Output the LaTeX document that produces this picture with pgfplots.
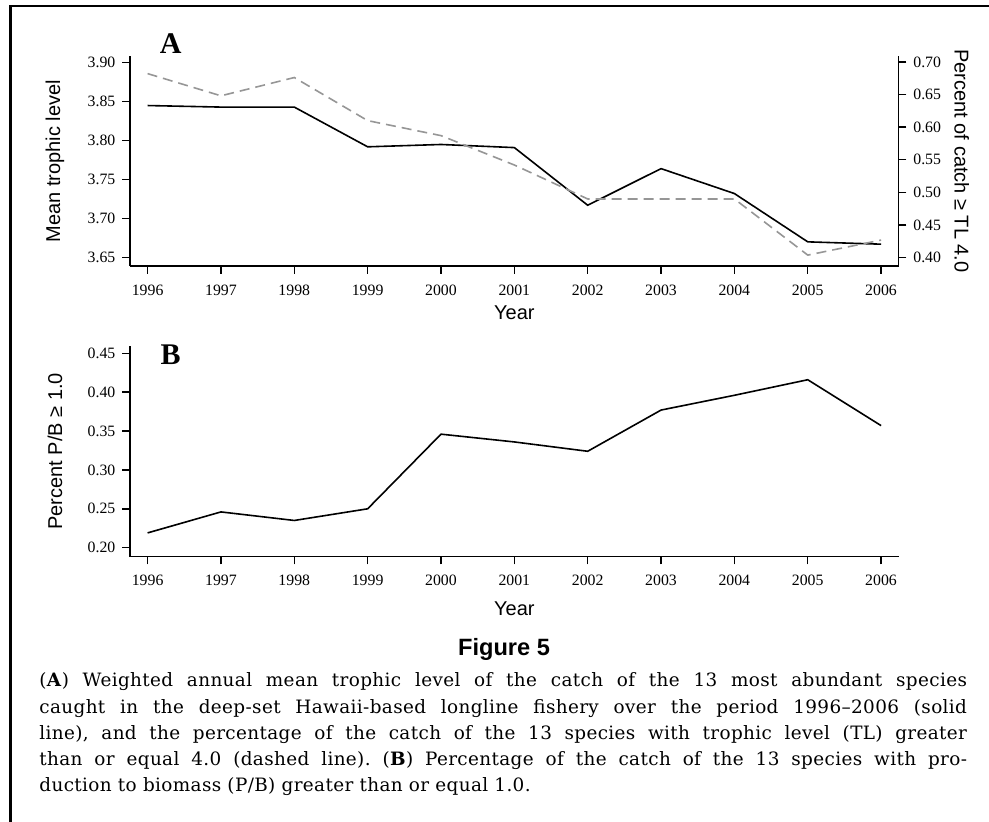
\documentclass[border=0pt]{standalone}
\usepackage{fontspec}
\setmainfont{Liberation Sans}
\newfontfamily\tickfont{Liberation Serif}
\newfontfamily\capfont{DejaVu Serif}[LetterSpace=2]
\usepackage{pgfplots}
\usepackage{pgfplotstable}
\pgfplotsset{compat=1.18}

\definecolor{dashgray}{RGB}{150,150,150}

% panel A: mean trophic level (left axis) and share of catch >= TL 4.0 (right axis)
\pgfplotstableread{
year tl    pct
1996 3.845 0.682
1997 3.843 0.648
1998 3.843 0.676
1999 3.792 0.610
2000 3.795 0.587
2001 3.791 0.542
2002 3.717 0.490
2003 3.764 0.490
2004 3.732 0.490
2005 3.670 0.404
2006 3.667 0.427
}\dataA

% panel B: share of catch with P/B >= 1.0
\pgfplotstableread{
year pb
1996 0.219
1997 0.246
1998 0.235
1999 0.250
2000 0.346
2001 0.336
2002 0.324
2003 0.377
2004 0.396
2005 0.416
2006 0.357
}\dataB

\pgfplotsset{
  panel/.style={
    scale only axis, width=384.35pt,
    xmin=1995.76, xmax=2006.24,
    xtick={1996,...,2006},
    tick align=outside, major tick length=3.8pt,
    tick style={black, line width=0.7pt},
    axis line style={black, line width=0.7pt, -},
    tick label style={font=\tickfont\fontsize{7.9}{9}\selectfont,
      /pgf/number format/assume math mode=true},
    label style={font=\fontsize{10}{12}\selectfont},
    xticklabel style={/pgf/number format/1000 sep={}, yshift=-2pt},
    yticklabel style={/pgf/number format/.cd, fixed, fixed zerofill, precision=2},
  }
}

\begin{document}
\frenchspacing
\begin{tikzpicture}
\useasboundingbox (0,0) rectangle (494.5pt,-411pt);

% frame
\draw[line width=1.3pt] (5.2pt,-420pt) -- (5.2pt,-3pt) -- (500pt,-3pt);

% ---- panel A, left axis
\begin{axis}[panel, at={(65pt,-133pt)}, anchor=south west, height=105pt,
  ymin=3.639, ymax=3.9086, ytick={3.65,3.70,...,3.90},
  axis x line*=bottom, axis y line*=left,
  xlabel={Year}, ylabel={Mean trophic level},
  xlabel style={at={(axis description cs:0.5,-0.224)}, anchor=center},
  ylabel style={at={(axis description cs:-0.0976,0.5)}, anchor=center},
]
\addplot[black, line width=0.8pt] table[x=year, y=tl] {\dataA};
\end{axis}

% ---- panel A, right axis
\begin{axis}[panel, at={(65pt,-133pt)}, anchor=south west, height=105pt,
  ymin=0.3873, ymax=0.709, ytick={0.40,0.45,...,0.70},
  axis x line=none, axis y line*=right,
  ylabel={Percent of catch ≥ TL 4.0},
  ylabel style={at={(axis description cs:1.082,0.5)}, anchor=center, rotate=180},
]
\addplot[dashgray, line width=0.8pt, dash pattern=on 5pt off 3pt] table[x=year, y=pct] {\dataA};
\end{axis}
\node[font=\tickfont\bfseries\fontsize{15}{15}\selectfont] at (85.35pt,-21.65pt) {A};

% ---- panel B
\begin{axis}[panel, at={(65pt,-278.35pt)}, anchor=south west, height=105.35pt,
  ymin=0.1884, ymax=0.4594, ytick={0.20,0.25,...,0.45},
  axis x line*=bottom, axis y line*=left,
  xlabel={Year}, ylabel={Percent P/B ≥ 1.0},
  xlabel style={at={(axis description cs:0.5,-0.245)}, anchor=center},
  ylabel style={at={(axis description cs:-0.0976,0.5)}, anchor=center},
]
\addplot[black, line width=0.8pt] table[x=year, y=pb] {\dataB};
\end{axis}
\node[font=\tickfont\bfseries\fontsize{15}{15}\selectfont] at (85.35pt,-177.15pt) {B};

% ---- caption
\node[anchor=base, font=\bfseries\fontsize{11.8}{13}\selectfont] at (252pt,-327.5pt) {Figure 5};
\begin{scope}[every node/.style={anchor=base west, inner sep=0pt, font=\capfont\fontsize{9.2}{10}\selectfont}]
\node at (19.5pt,-343.35pt) {\hbox to 463.8pt{(\textbf{A}) Weighted annual mean trophic level of the catch of the 13 most abundant species}};
\node at (19.5pt,-356.5pt) {\hbox to 463.8pt{caught in the deep-set Hawaii-based longline fishery over the period 1996–2006 (solid}};
\node at (19.5pt,-369.65pt) {\hbox to 463.8pt{line), and the percentage of the catch of the 13 species with trophic level (TL) greater}};
\node at (19.5pt,-382.8pt) {\hbox to 463.8pt{than or equal 4.0 (dashed line). (\textbf{B}) Percentage of the catch of the 13 species with pro-}};
\node at (19.5pt,-395.95pt) {duction to biomass (P/B) greater than or equal 1.0.};
\end{scope}
\end{tikzpicture}
\end{document}
